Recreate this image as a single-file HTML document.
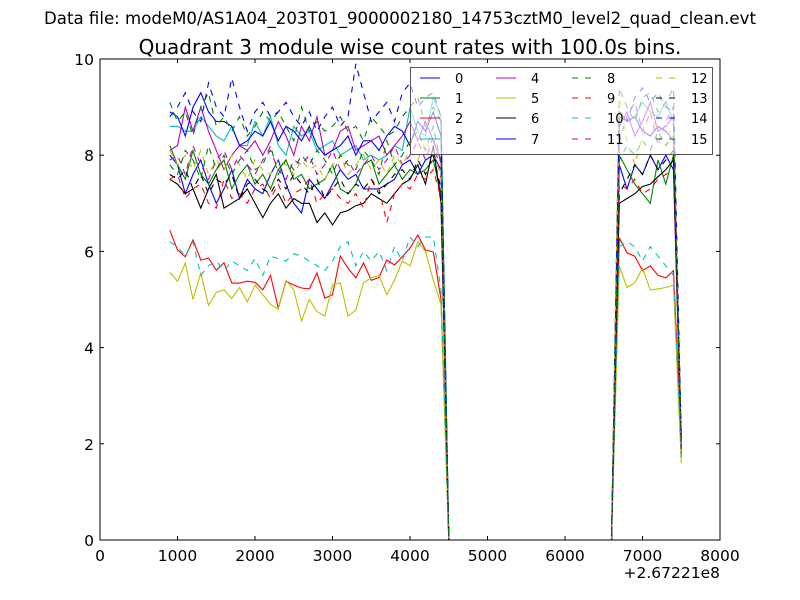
<!DOCTYPE html>
<html><head><meta charset="utf-8"><style>
html,body{margin:0;padding:0;background:#fff;}
svg{display:block;font-family:"DejaVu Sans","Liberation Sans",sans-serif;}
</style></head><body>
<svg id="chart" width="800" height="600" viewBox="0 0 800 600">
<rect x="0" y="0" width="800" height="600" fill="#fff"/>
<text x="400" y="24" text-anchor="middle" font-size="16.6">Data file: modeM0/AS1A04_203T01_9000002180_14753cztM0_level2_quad_clean.evt</text>
<text x="410" y="54" text-anchor="middle" font-size="20">Quadrant 3 module wise count rates with 100.0s bins.</text>
<g id="plot"></g>
</svg>
<script>
const leftTimes = [900,1000,1100,1200,1300,1400,1500,1600,1700,1800,1900,2000,2100,2200,2300,2400,2500,2600,2700,2800,2900,3000,3100,3200,3300,3400,3500,3600,3700,3800,3900,4000,4100,4200,4300,4400];
const gapTimes = [4500,4600,4700,4800,4900,5000,5100,5200,5300,5400,5500,5600,5700,5800,5900,6000,6100,6200,6300,6400,6500,6600];
const rightTimes = [6700,6800,6900,7000,7100,7200,7300,7400,7500];
const xTicks = [0,1000,2000,3000,4000,5000,6000,7000,8000];
const yTicks = [0,2,4,6,8,10];
const offsetLabel = "+2.67221e8";
const seriesNames = ["0","1","2","3","4","5","6","7","8","9","10","11","12","13","14","15"];
const s0L=[8.0,7.8,7.2,7.6,7.9,7.4,7.0,7.3,7.7,7.1,7.5,7.3,7.2,7.6,7.9,7.4,7.0,6.8,7.5,7.3,7.1,7.4,7.7,7.5,7.6,7.3,7.3,7.3,7.4,7.5,7.8,7.9,7.6,7.9,8.0,7.7];
const s0R=[7.8,7.3,7.8,7.6,8.0,7.7,8.0,7.7,1.9];
const s1L=[8.2,7.8,7.5,8.1,7.6,7.4,7.7,7.9,7.3,7.6,7.8,7.4,7.6,7.3,7.7,7.9,7.5,7.6,7.3,7.4,7.5,7.8,7.3,7.2,7.4,7.8,7.9,7.4,7.6,7.8,7.5,7.7,7.6,7.7,7.9,7.2];
const s1R=[8.0,7.7,7.4,7.2,7.0,7.9,7.4,8.0,2.0];
const s2L=[6.44,6.03,5.89,6.24,5.82,5.86,5.61,5.76,5.34,5.34,5.38,5.36,5.2,5.5,4.82,5.38,5.3,5.24,5.22,5.55,5.03,5.1,5.9,5.65,5.45,5.76,5.4,5.46,5.82,5.72,5.89,6.07,6.34,6.03,5.99,5.0];
const s2R=[6.28,5.97,5.9,5.6,5.7,5.5,5.45,5.6,2.0];
const s3L=[8.6,8.6,8.5,8.5,8.8,8.6,8.4,8.3,8.6,8.2,8.2,8.7,8.4,8.8,8.2,8.0,8.6,8.4,8.5,8.1,8.2,8.3,8.0,8.1,8.2,7.9,8.0,7.9,8.0,8.2,8.1,9.0,8.5,8.4,9.2,8.8];
const s3R=[8.8,8.7,8.8,9.1,8.9,8.8,9.1,8.7,1.7];
const s4L=[8.1,8.2,9.0,8.5,9.0,8.5,8.1,7.7,8.0,8.2,8.1,8.3,8.0,8.3,8.7,8.4,8.0,8.6,8.3,8.8,8.0,8.1,8.5,8.6,8.1,8.2,8.3,8.4,8.0,8.2,8.4,8.7,8.3,8.7,8.3,7.9];
const s4R=[8.6,8.9,8.4,8.7,9.1,8.5,8.6,8.8,1.8];
const s5L=[5.57,5.38,5.76,5.0,5.55,4.88,5.15,5.2,5.02,5.25,4.95,5.3,5.1,4.9,4.8,5.4,5.2,4.55,5.0,4.75,4.65,5.3,5.35,4.65,4.78,5.35,5.45,5.5,5.1,5.4,5.8,5.7,6.2,6.0,5.4,4.9];
const s5R=[5.7,5.25,5.35,5.65,5.2,5.22,5.25,5.3,1.6];
const s6L=[7.5,7.4,7.2,7.3,6.9,7.3,7.6,6.9,7.0,7.1,7.3,7.0,6.7,7.0,7.2,6.9,7.1,7.0,7.0,6.6,6.8,6.55,6.8,6.85,6.95,7.0,7.2,7.1,7.0,7.2,7.4,7.5,7.8,7.4,8.2,7.0];
const s6R=[7.0,7.1,7.2,7.35,7.4,7.55,7.7,7.9,1.9];
const s7L=[8.9,8.8,8.4,9.0,9.3,8.9,8.7,8.7,8.6,8.2,8.3,8.5,8.4,8.7,8.3,8.6,8.5,8.3,8.6,8.2,8.0,8.1,8.2,8.4,8.0,8.3,8.3,8.1,8.4,8.6,8.5,8.2,8.7,8.5,8.9,8.4];
const s7R=[8.9,8.7,8.8,8.5,8.4,8.6,8.5,8.3,2.1];
const s8L=[9.1,8.7,8.9,8.4,9.0,9.3,8.6,8.8,8.5,8.8,8.4,8.6,8.9,8.7,8.9,8.6,8.3,9.0,8.5,8.7,8.5,8.6,8.8,8.5,8.6,8.3,8.8,8.6,8.4,8.5,8.8,9.0,9.2,8.6,9.0,8.7];
const s8R=[9.4,9.0,8.7,9.2,9.3,8.9,9.1,9.4,2.1];
const s9L=[7.5,7.6,7.1,7.3,7.4,7.0,6.9,7.5,7.1,7.2,7.0,7.3,7.4,7.1,7.4,7.0,7.2,7.3,7.5,7.0,7.2,7.3,7.1,7.0,7.2,6.9,7.5,7.3,6.6,7.2,7.4,7.3,7.6,7.5,7.7,7.1];
const s9R=[7.4,7.3,7.5,7.2,7.3,7.5,7.6,7.7,1.9];
const s10L=[6.2,6.1,5.9,6.2,5.5,5.7,5.8,5.6,5.8,5.7,5.6,5.85,5.5,5.9,5.85,5.8,5.95,5.9,5.8,5.7,5.6,5.8,6.1,6.2,5.7,6.0,5.8,6.0,5.6,6.1,5.8,6.3,6.1,6.3,6.3,5.2];
const s10R=[6.1,6.2,6.1,5.8,6.1,5.9,5.7,5.5,1.7];
const s11L=[7.9,8.0,7.6,8.2,7.8,7.5,7.9,8.1,7.7,8.0,7.8,7.6,7.9,8.1,7.7,7.5,7.9,7.8,8.0,7.6,7.8,8.1,7.7,7.9,7.6,7.8,8.0,7.7,7.9,8.2,7.8,8.0,8.3,7.9,8.4,7.5];
const s11R=[8.3,8.8,9.1,8.5,8.9,8.2,8.7,9.0,1.8];
const s12L=[8.1,7.8,8.0,7.7,8.1,7.6,7.9,7.7,8.0,7.8,7.5,7.9,7.7,7.6,7.9,7.8,7.6,7.9,7.7,7.8,7.5,7.8,8.0,7.6,7.8,8.0,7.7,7.9,7.6,8.0,7.8,8.1,7.9,8.3,8.0,7.6];
const s12R=[9.2,8.3,7.8,8.4,8.9,8.5,8.2,8.7,2.0];
const s13L=[7.6,7.5,7.7,7.3,7.6,7.2,7.5,7.4,7.6,7.1,7.4,7.5,7.3,7.2,7.5,7.3,7.6,7.4,7.2,7.5,7.1,7.3,7.5,7.2,7.4,7.3,7.5,7.2,7.4,7.6,7.7,7.5,7.9,7.6,8.0,7.3];
const s13R=[7.2,7.5,7.8,7.6,8.0,7.7,7.9,8.1,2.0];
const s14L=[8.8,9.0,9.3,8.9,8.7,9.5,9.0,8.8,9.6,9.0,8.5,8.9,9.1,8.8,8.9,9.1,8.8,8.6,8.9,8.5,8.8,9.0,8.6,8.8,9.9,9.3,8.7,8.9,9.1,8.7,9.3,9.5,9.0,9.2,9.3,8.8];
const s14R=[8.9,8.7,9.2,9.4,9.1,9.3,9.0,8.9,2.1];
const s15L=[7.8,7.6,8.1,7.9,7.5,8.2,7.7,8.0,7.6,7.9,8.1,7.7,7.8,8.2,7.6,7.9,7.7,8.0,7.8,8.1,7.9,7.6,8.0,7.8,7.7,8.1,7.9,7.6,8.3,7.8,8.0,8.3,8.5,8.1,8.6,7.8];
const s15R=[7.9,8.2,8.0,8.3,8.1,8.5,8.2,8.4,1.9];

const leftVals=[s0L,s1L,s2L,s3L,s4L,s5L,s6L,s7L,s8L,s9L,s10L,s11L,s12L,s13L,s14L,s15L];
const rightVals=[s0R,s1R,s2R,s3R,s4R,s5R,s6R,s7R,s8R,s9R,s10R,s11R,s12R,s13R,s14R,s15R];
const colors=["#0000ff","#008000","#ff0000","#00bfbf","#bf00bf","#bfbf00","#000000"];

const NS="http://www.w3.org/2000/svg";
const X0=100,X1=720,Y0=540,Y1=59;
const xs=v=>X0+(v-0)/(8000-0)*(X1-X0);
const ys=v=>Y0-(v-0)/(10-0)*(Y0-Y1);
const g=document.getElementById('plot');
function mk(tag,attrs,parent){const e=document.createElementNS(NS,tag);for(const k in attrs)e.setAttribute(k,attrs[k]);(parent||g).appendChild(e);return e;}

const clip=mk('clipPath',{id:'clip'});mk('rect',{x:X0,y:Y1,width:X1-X0,height:Y0-Y1},clip);
const lines=mk('g',{'clip-path':'url(#clip)'});


for(let i=0;i<16;i++){
  const times=leftTimes.concat(gapTimes,rightTimes);
  const vals=leftVals[i].concat(gapTimes.map(()=>0),rightVals[i]);
  const d=times.map((t,j)=>(j?'L':'M')+xs(t).toFixed(1)+','+ys(vals[j]).toFixed(1)).join('');
  const p=mk('path',{d:d,fill:'none',stroke:colors[i%7],'stroke-width':1.1,'stroke-dasharray':i>=8?'6,6':'none'},lines);
  
  
}
const frame=mk('rect',{x:X0,y:Y1,width:X1-X0,height:Y0-Y1,fill:'none',stroke:'#000','stroke-width':1});


xTicks.forEach(t=>{
  const x=xs(t);
  mk('line',{x1:x,x2:x,y1:Y0,y2:Y0-4,stroke:'#000'});
  mk('line',{x1:x,x2:x,y1:Y1,y2:Y1+4,stroke:'#000'});
  const tx=mk('text',{x:x,y:Y0+21,'text-anchor':'middle','font-size':15.5});
  tx.textContent=t;
  
  
});
yTicks.forEach(t=>{
  const y=ys(t);
  mk('line',{x1:X0,x2:X0+4,y1:y,y2:y,stroke:'#000'});
  mk('line',{x1:X1,x2:X1-4,y1:y,y2:y,stroke:'#000'});
  const tx=mk('text',{x:X0-6,y:y+6,'text-anchor':'end','font-size':15.5});
  tx.textContent=t;
  
  
});
const off=mk('text',{x:X1,y:578,'text-anchor':'end','font-size':15.5});
off.textContent=offsetLabel;



const leg=mk('g',{});


mk('rect',{x:410.5,y:67.5,width:302,height:87,fill:'#fff','fill-opacity':0.6,stroke:'#555','stroke-width':1},leg);
const colX=[420,496,572,656],rowY=[78,98,118,139];
for(let i=0;i<16;i++){
  const c=Math.floor(i/4),r=i%4;
  const e=mk('g',{},leg);
  
  
  mk('line',{x1:colX[c],x2:colX[c]+20,y1:rowY[r],y2:rowY[r],stroke:colors[i%7],'stroke-width':1.1,'stroke-dasharray':i>=8?'6,7':'none'},e);
  const t=mk('text',{x:colX[c]+35,y:rowY[r]+5,'font-size':13},e);
  t.textContent=seriesNames[i];
}
</script>
</body></html>
